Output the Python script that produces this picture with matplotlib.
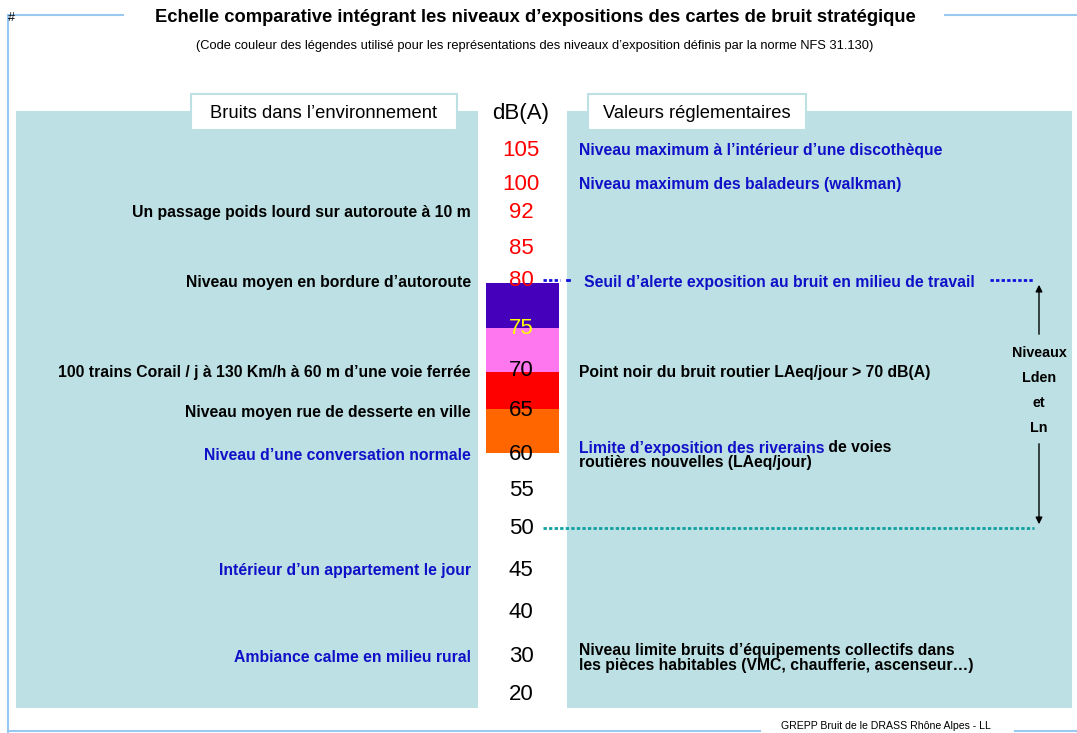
import matplotlib.pyplot as plt
from matplotlib.patches import Rectangle

plt.rcParams['font.family'] = ['Liberation Sans', 'DejaVu Sans']

# dB(A) scale values and colours
levels = [105, 100, 92, 85, 80, 75, 70, 65, 60, 55, 50, 45, 40, 30, 20]
level_colors = ['red'] * 5 + ['yellow'] + ['black'] * 9

# NFS 31.130 colour bands (upper, lower, colour)
band_tops = [80, 75, 70, 65]
band_colors = ['#4400bb', '#ff77ee', '#ff0000', '#ff6600']

BLUE = '#1010c8'
# left side: environmental noises
env_levels = [92, 80, 70, 65, 60, 45, 30]
env_labels = ["Un passage poids lourd sur autoroute à 10 m",
              "Niveau moyen en bordure d\u2019autoroute",
              "100 trains Corail / j à 130 Km/h à 60 m d\u2019une voie ferrée",
              "Niveau moyen rue de desserte en ville",
              "Niveau d\u2019une conversation normale",
              "Intérieur d\u2019un appartement le jour",
              "Ambiance calme en milieu rural"]
env_colors = ['black', 'black', 'black', 'black', BLUE, BLUE, BLUE]

# right side: regulatory values
reg_levels = [105, 100, 80, 70, 30]
reg_labels = [["Niveau maximum à l\u2019intérieur d\u2019une discothèque"],
              ["Niveau maximum des baladeurs (walkman)"],
              ["Seuil d\u2019alerte exposition au bruit en milieu de travail"],
              ["Point noir du bruit routier LAeq/jour > 70 dB(A)"],
              ["Niveau limite bruits d\u2019équipements collectifs dans",
               "les pièces habitables (VMC, chaufferie, ascenseur\u2026)"]]
reg_colors = [BLUE, BLUE, BLUE, 'black', 'black']

# vertical pixel position of each level on the sheet (non-linear scale)
ypos = {105: 149, 100: 183, 92: 211, 85: 248, 80: 280, 75: 327, 70: 370,
        65: 410, 60: 454, 55: 490, 50: 528, 45: 569, 40: 611, 30: 656, 20: 693}
band_edges = {80: 283, 75: 328, 70: 372, 65: 409, 60: 453}

fig = plt.figure(figsize=(10.77, 7.33), dpi=100)
ax = fig.add_axes([0, 0, 1, 1])
ax.set_xlim(0, 1077)
ax.set_ylim(733, 0)
ax.axis('off')

PANEL = '#bce0e3'
FRAME = '#99c8f0'
LAB = 11.3

# frame lines
ax.plot([8, 8], [15, 733], color=FRAME, lw=1.5)
ax.plot([8, 123], [15, 15], color=FRAME, lw=1.5)
ax.plot([945, 1077], [15, 15], color=FRAME, lw=1.5)
ax.plot([8, 760], [731, 731], color=FRAME, lw=1.5)
ax.plot([1015, 1077], [731, 731], color=FRAME, lw=1.5)
ax.text(8, 18, '#', fontsize=9, ha='left', va='center')

ax.text(535, 18, "Echelle comparative intégrant les niveaux d\u2019expositions des cartes de bruit stratégique",
        fontsize=13.2, fontweight='bold', ha='center', va='center')
ax.text(535, 46, "(Code couleur des légendes utilisé pour les représentations des niveaux d\u2019exposition définis par la norme NFS 31.130)",
        fontsize=9.3, ha='center', va='center')
ax.text(781, 726, "GREPP Bruit de le DRASS Rhône Alpes - LL", fontsize=7.6,
        ha='left', va='center')

# panels
ax.add_patch(Rectangle((16, 111), 462, 597, color=PANEL, lw=0))
ax.add_patch(Rectangle((567, 111), 505, 597, color=PANEL, lw=0))
ax.add_patch(Rectangle((191, 94), 266, 36, facecolor='white', edgecolor=PANEL, lw=1.5))
ax.add_patch(Rectangle((588, 94), 218, 36, facecolor='white', edgecolor=PANEL, lw=1.5))
ax.text(324, 114, "Bruits dans l\u2019environnement", fontsize=13.2, ha='center', va='center')
ax.text(697, 114, "Valeurs réglementaires", fontsize=13.2, ha='center', va='center')
ax.text(521, 113, "dB(A)", fontsize=16, ha='center', va='center')

# colour bands
lowers = [75, 70, 65, 60]
for top, low, c in zip(band_tops, lowers, band_colors):
    y0 = band_edges[top]
    ax.add_patch(Rectangle((486, y0), 73, band_edges[low] - y0, color=c, lw=0))

for lv, c in zip(levels, level_colors):
    ax.text(521, ypos[lv] + 1, str(lv), fontsize=16, color=c, ha='center', va='center')

for lv, lab, c in zip(env_levels, env_labels, env_colors):
    ax.text(471, ypos[lv] + 2, lab, fontsize=LAB, fontweight='bold', color=c,
            ha='right', va='center')

for lv, lines, c in zip(reg_levels, reg_labels, reg_colors):
    x = 584 if lv == 80 else 579
    y = ypos[lv] + 2 - 7.5 * (len(lines) - 1)
    for i, s in enumerate(lines):
        ax.text(x, y + 15 * i, s, fontsize=LAB, fontweight='bold', color=c,
                ha='left', va='center')

# 60 dB(A) mixed-colour label
t1 = ax.text(579, 448, "Limite d\u2019exposition des riverains", fontsize=LAB,
             fontweight='bold', color=BLUE, ha='left', va='center')
fig.canvas.draw()
bb = t1.get_window_extent().transformed(ax.transData.inverted())
ax.text(bb.x1, 448, " de voies", fontsize=LAB, fontweight='bold', color='black',
        ha='left', va='center')
ax.text(579, 463, "routières nouvelles (LAeq/jour)", fontsize=LAB, fontweight='bold',
        color='black', ha='left', va='center')

# dotted thresholds
ax.plot([543, 560], [280, 280], color='#1010dd', lw=2, ls=(0, (1.2, 0.8)))
ax.plot([567, 569], [280, 280], color='#1010dd', lw=2)
ax.plot([990, 1034], [280, 280], color='#1010dd', lw=2, ls=(0, (1.2, 0.8)))
ax.plot([543, 1034], [528, 528], color='#10a0a0', lw=2, ls=(0, (1.2, 0.8)))

# Lden / Ln arrows
ax.annotate('', xy=(1039, 282), xytext=(1039, 337),
            arrowprops=dict(arrowstyle='-|>', color='black', lw=1, mutation_scale=10))
ax.annotate('', xy=(1039, 527), xytext=(1039, 441),
            arrowprops=dict(arrowstyle='-|>', color='black', lw=1, mutation_scale=10))
for y, s in zip([353, 378, 403, 428], ["Niveaux", "Lden", "et", "Ln"]):
    ax.text(1039, y, s, fontsize=10.3, fontweight='bold', ha='center', va='center')

fig.savefig('out.png', dpi=100)
